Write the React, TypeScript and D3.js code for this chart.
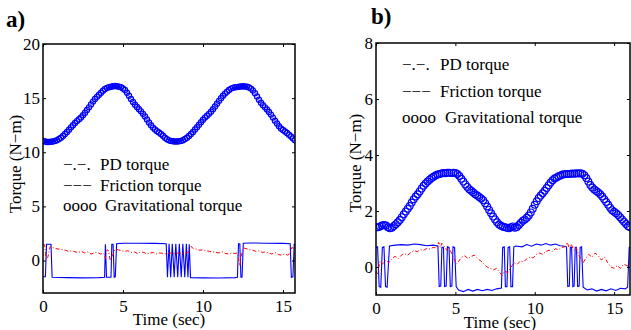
import React, { useEffect, useRef } from 'react';
import * as d3 from 'd3';

// Gravitational torque, sampled every 0.125 s (panel a: 0..15.75 s, panel b: 0..16 s)
const GRAV_STEP = 0.125;
const gravA = [
  11.05, 11.0, 10.95, 10.95, 10.97, 11.0, 11.05, 11.12, 11.22, 11.35, 11.5, 11.68, 11.88, 12.08, 12.3, 12.5,
  12.7, 12.88, 13.05, 13.22, 13.42, 13.65, 13.9, 14.15, 14.42, 14.68, 14.92, 15.12, 15.32, 15.5, 15.68, 15.85,
  15.95, 16.0, 16.05, 16.1, 16.12, 16.1, 16.05, 16.0, 15.9, 15.75, 15.5, 15.22, 14.92, 14.65, 14.4, 14.18,
  13.98, 13.78, 13.55, 13.3, 13.02, 12.75, 12.5, 12.28, 12.1, 11.95, 11.82, 11.68, 11.52, 11.35, 11.2, 11.1,
  11.05, 11.02, 11.0, 11.0, 11.02, 11.05, 11.12, 11.22, 11.35, 11.5, 11.68, 11.88, 12.1, 12.32, 12.55, 12.78,
  13.0, 13.2, 13.38, 13.55, 13.75, 13.98, 14.22, 14.48, 14.75, 15.0, 15.22, 15.42, 15.6, 15.75, 15.88, 15.95,
  16.0, 16.02, 16.05, 16.08, 16.1, 16.08, 16.05, 15.98, 15.88, 15.7, 15.45, 15.15, 14.85, 14.58, 14.35, 14.15,
  13.95, 13.72, 13.48, 13.2, 12.92, 12.65, 12.4, 12.2, 12.05, 11.92, 11.78, 11.62, 11.45, 11.28, 11.1
];
const gravB = [
  1.42, 1.42, 1.45, 1.48, 1.5, 1.48, 1.42, 1.38, 1.4, 1.46, 1.53, 1.6, 1.68, 1.78, 1.88, 1.98,
  2.08, 2.18, 2.3, 2.42, 2.52, 2.6, 2.7, 2.8, 2.9, 2.98, 3.05, 3.12, 3.18, 3.22, 3.27, 3.3,
  3.32, 3.34, 3.36, 3.35, 3.37, 3.37, 3.36, 3.37, 3.36, 3.32, 3.25, 3.15, 3.05, 2.95, 2.86, 2.78,
  2.72, 2.66, 2.6, 2.55, 2.5, 2.45, 2.38, 2.28, 2.16, 2.04, 1.92, 1.8, 1.7, 1.6, 1.52, 1.47,
  1.44, 1.42, 1.4, 1.38, 1.42, 1.45, 1.4, 1.43, 1.5, 1.58, 1.65, 1.7, 1.76, 1.84, 1.95, 2.08,
  2.22, 2.35, 2.46, 2.55, 2.63, 2.72, 2.82, 2.92, 3.02, 3.1, 3.16, 3.2, 3.24, 3.27, 3.3, 3.31,
  3.32, 3.32, 3.33, 3.34, 3.33, 3.35, 3.34, 3.35, 3.33, 3.28, 3.18, 3.05, 2.93, 2.84, 2.77, 2.71,
  2.66, 2.6, 2.52, 2.42, 2.32, 2.22, 2.12, 2.03, 1.97, 1.92, 1.86, 1.78, 1.7, 1.62, 1.54, 1.46,
  1.42
];

// Friction torque [time, value]
const frictionA: [number, number][] = [
  [0, -1.5], [0.15, -1.5], [0.22, 1.5], [0.5, 1.5], [0.57, -1.55], [1.5, -1.58], [2.5, -1.6], [3.5, -1.58],
  [3.85, -1.55], [3.9, 1.5], [3.97, -1.55], [4.25, -1.55], [4.3, 1.5], [4.38, 1.5], [4.45, -1.55], [4.52, -1.5],
  [4.6, 1.55], [5, 1.6], [6, 1.6], [7, 1.58], [7.7, 1.55], [7.78, -1.55], [7.88, 1.55], [7.98, -1.55],
  [8.08, 1.55], [8.2, -1.55], [8.3, 1.55], [8.42, -1.55], [8.52, 1.55], [8.64, -1.55], [8.74, 1.55],
  [8.86, -1.55], [8.96, 1.55], [9.06, -1.55], [9.14, 1.5], [9.22, -1.58], [10, -1.6], [11, -1.62], [12, -1.58],
  [12.15, -1.55], [12.22, 1.55], [12.3, 1.55], [12.37, -1.55], [12.44, -1.55], [12.52, 1.6], [13, 1.62],
  [14, 1.6], [15, 1.58], [15.45, 1.55], [15.52, -1.55], [15.62, -1.5], [15.7, 1.5], [15.75, 1.5]
];
const frictionB: [number, number][] = [
  [0, 0.7], [0.1, 0.72], [0.2, -0.7], [0.3, -0.72], [0.4, 0.7], [0.5, 0.72], [0.6, -0.7], [0.7, -0.72],
  [0.85, 0.75], [1.2, 0.78], [1.6, 0.8], [2.0, 0.78], [2.4, 0.82], [2.8, 0.8], [3.2, 0.76], [3.6, 0.78],
  [3.9, 0.75], [3.98, -0.7], [4.08, -0.68], [4.15, 0.7], [4.25, 0.7], [4.32, -0.7], [4.42, -0.68], [4.5, 0.72],
  [4.6, 0.7], [4.68, -0.7], [4.78, -0.68], [4.85, 0.72], [4.95, 0.7], [5.05, -0.7], [5.2, -0.82], [5.5, -0.88],
  [5.8, -0.8], [6.1, -0.86], [6.4, -0.8], [6.7, -0.85], [7.0, -0.8], [7.3, -0.84], [7.6, -0.78], [7.9, -0.75],
  [7.98, 0.7], [8.08, 0.72], [8.15, -0.7], [8.25, -0.7], [8.32, 0.7], [8.42, 0.72], [8.5, -0.7], [8.6, -0.7],
  [8.68, 0.72], [8.8, 0.75], [9.2, 0.72], [9.5, 0.8], [9.8, 0.74], [10.1, 0.82], [10.4, 0.78], [10.7, 0.84],
  [11.0, 0.78], [11.3, 0.82], [11.6, 0.76], [11.9, 0.74], [12.0, 0.72], [12.08, -0.7], [12.18, -0.68],
  [12.24, 0.7], [12.32, 0.7], [12.4, -0.7], [12.48, -0.68], [12.55, 0.7], [12.63, 0.7], [12.7, -0.7],
  [12.8, -0.68], [12.86, 0.7], [12.95, 0.72], [13.05, -0.72], [13.3, -0.82], [13.6, -0.78], [13.9, -0.86],
  [14.2, -0.8], [14.5, -0.85], [14.8, -0.78], [15.1, -0.84], [15.4, -0.76], [15.7, -0.78], [15.85, -0.72],
  [15.95, 0.7], [16, 0.72]
];

// PD torque [time, value]
const pdA: [number, number][] = [
  [0, 1.5], [0.1, 1.45], [0.2, 0.1], [0.3, 0.3], [0.45, 1.3], [0.6, 1.2], [0.8, 1.1], [1.0, 1.05], [1.2, 1.0],
  [1.4, 0.95], [1.6, 0.85], [1.8, 0.9], [2.0, 0.8], [2.2, 0.75], [2.4, 0.85], [2.6, 0.7], [2.8, 0.8], [3.0, 0.6],
  [3.2, 0.7], [3.4, 0.75], [3.6, 0.6], [3.8, 0.65], [3.9, 0.2], [4.0, 1.0], [4.1, 0.9], [4.2, 0.0], [4.35, 0.5],
  [4.5, 1.0], [4.7, 1.0], [4.9, 0.9], [5.1, 0.85], [5.3, 0.9], [5.5, 0.75], [5.7, 0.8], [5.9, 0.65], [6.1, 0.8],
  [6.3, 0.75], [6.5, 0.6], [6.7, 0.7], [6.9, 0.75], [7.1, 0.6], [7.3, 0.7], [7.5, 0.65], [7.7, 0.6], [7.9, 0.7],
  [8.2, 0.65], [8.5, 0.7], [8.8, 0.6], [9.1, 0.8], [9.25, 1.3], [9.4, 1.1], [9.6, 1.05], [9.8, 0.95], [10.0, 1.0],
  [10.2, 0.9], [10.4, 0.85], [10.6, 0.8], [10.8, 0.75], [11.0, 0.7], [11.2, 0.8], [11.4, 0.65], [11.6, 0.6],
  [11.8, 0.7], [12.0, 0.65], [12.15, 0.7], [12.3, -0.5], [12.45, 0.9], [12.55, 1.15], [12.7, 1.1], [12.9, 1.0],
  [13.1, 0.95], [13.3, 0.85], [13.5, 0.9], [13.7, 0.75], [13.9, 0.8], [14.1, 0.7], [14.3, 0.6], [14.5, 0.75],
  [14.7, 0.55], [14.9, 0.5], [15.1, 0.6], [15.3, 0.5], [15.45, 0.65], [15.55, 1.2], [15.75, 1.1]
];
const pdB: [number, number][] = [
  [0, -0.15], [0.1, -0.25], [0.25, 0.2], [0.4, 0.1], [0.6, 0.25], [0.8, 0.15], [1.0, 0.3], [1.2, 0.38],
  [1.4, 0.3], [1.6, 0.42], [1.8, 0.48], [2.0, 0.42], [2.2, 0.52], [2.4, 0.58], [2.6, 0.55], [2.8, 0.62],
  [3.0, 0.6], [3.2, 0.66], [3.4, 0.64], [3.6, 0.7], [3.8, 0.68], [3.95, 0.88], [4.05, 0.7], [4.15, 0.85],
  [4.3, 0.75], [4.45, 0.6], [4.6, 0.7], [4.75, 0.5], [4.9, 0.3], [5.05, 0.1], [5.2, 0.2], [5.4, 0.35],
  [5.6, 0.4], [5.8, 0.3], [6.0, 0.38], [6.2, 0.42], [6.4, 0.3], [6.6, 0.22], [6.8, 0.1], [7.0, 0.0],
  [7.2, -0.05], [7.4, -0.1], [7.6, -0.05], [7.8, -0.2], [7.95, -0.3], [8.1, -0.15], [8.3, -0.2], [8.5, 0.0],
  [8.7, 0.15], [8.9, 0.1], [9.1, 0.22], [9.3, 0.18], [9.5, 0.3], [9.7, 0.35], [9.9, 0.32], [10.1, 0.45],
  [10.3, 0.5], [10.5, 0.45], [10.7, 0.55], [10.9, 0.6], [11.1, 0.55], [11.3, 0.65], [11.5, 0.62], [11.7, 0.7],
  [11.9, 0.72], [12.05, 0.88], [12.15, 0.7], [12.3, 0.82], [12.45, 0.6], [12.6, 0.7], [12.75, 0.45],
  [12.9, 0.3], [13.05, 0.15], [13.2, 0.3], [13.4, 0.45], [13.6, 0.35], [13.8, 0.5], [14.0, 0.4], [14.2, 0.25],
  [14.4, 0.35], [14.6, 0.15], [14.8, 0.0], [15.0, -0.05], [15.2, 0.05], [15.4, -0.05], [15.6, 0.1],
  [15.8, 0.05], [16, 0.0]
];

const xTicks = [0, 5, 10, 15];
const yTicksA = [0, 5, 10, 15, 20];
const yTicksB = [0, 2, 4, 6, 8];
const legendItems = [
  ['\u2212.\u2212.', 'PD torque'],
  ['\u2212\u2212\u2212', 'Friction torque'],
  ['oooo', 'Gravitational torque']
];

const FONT = '"Liberation Serif", "Times New Roman", serif';

const App = () => {
  const ref = useRef<SVGSVGElement>(null);

  useEffect(() => {
    drawChart();
  }, []);

  const drawPanel = (svg: any, p: any) => {
    const x = d3.scaleLinear().domain(p.xDomain).range([p.left, p.right]);
    const y = d3.scaleLinear().domain(p.yDomain).range([p.bottom, p.top]);
    const g = svg.append('g');

    // clip for the plot area
    const clipId = 'clip-' + p.name;
    svg.append('clipPath').attr('id', clipId)
      .append('rect')
      .attr('x', p.left).attr('y', p.top)
      .attr('width', p.right - p.left).attr('height', p.bottom - p.top);

    const plot = g.append('g').attr('clip-path', `url(#${clipId})`);
    const line = d3.line<[number, number]>().x(d => x(d[0])).y(d => y(d[1]));

    // friction torque
    plot.append('path')
      .attr('d', line(p.friction))
      .attr('fill', 'none')
      .attr('stroke', '#0000ff')
      .attr('stroke-width', 1.1);

    // PD torque
    plot.append('path')
      .attr('d', line(p.pd))
      .attr('fill', 'none')
      .attr('stroke', '#ff0000')
      .attr('stroke-width', 1)
      .attr('stroke-dasharray', '4,2,1,2');

    // gravitational torque markers
    plot.selectAll('circle.grav')
      .data(p.grav)
      .enter()
      .append('circle')
      .attr('class', 'grav')
      .attr('cx', (d: number, i: number) => x(i * GRAV_STEP))
      .attr('cy', (d: number) => y(d))
      .attr('r', p.r)
      .attr('fill', 'none')
      .attr('stroke', '#0000ff')
      .attr('stroke-width', 1.2);

    // axes, ticks pointing inward
    const bottomAxis = g.append('g')
      .attr('transform', `translate(0,${p.bottom})`)
      .call(d3.axisBottom(x).tickValues(xTicks).tickSizeInner(-3).tickSizeOuter(0).tickPadding(7));
    const leftAxis = g.append('g')
      .attr('transform', `translate(${p.left},0)`)
      .call(d3.axisLeft(y).tickValues(p.yTicks).tickSizeInner(-3).tickSizeOuter(0).tickPadding(3));
    g.append('g')
      .attr('transform', `translate(0,${p.top})`)
      .call(d3.axisTop(x).tickValues(xTicks).tickSizeInner(-3).tickSizeOuter(0).tickFormat(() => ''));
    g.append('g')
      .attr('transform', `translate(${p.right},0)`)
      .call(d3.axisRight(y).tickValues(p.yTicks).tickSizeInner(-3).tickSizeOuter(0).tickFormat(() => ''));

    g.selectAll('.domain').remove();
    g.selectAll('.tick line').attr('stroke', '#000').attr('stroke-width', 1);
    [bottomAxis, leftAxis].forEach(a => {
      a.selectAll('text')
        .attr('font-family', FONT)
        .attr('font-size', 17)
        .attr('fill', '#000');
    });

    g.append('rect')
      .attr('x', p.left).attr('y', p.top)
      .attr('width', p.right - p.left).attr('height', p.bottom - p.top)
      .attr('fill', 'none')
      .attr('stroke', '#000')
      .attr('stroke-width', 1.5);

    // axis titles
    g.append('text')
      .attr('x', (p.left + p.right) / 2 + p.xLabelDx)
      .attr('y', p.xLabelY)
      .attr('text-anchor', 'middle')
      .attr('font-family', FONT)
      .attr('font-size', 17)
      .text('Time (sec)');

    g.append('text')
      .attr('transform', `translate(${p.yLabelX},${p.yLabelY}) rotate(-90)`)
      .attr('text-anchor', 'middle')
      .attr('font-family', FONT)
      .attr('font-size', 17)
      .text('Torque (N\u2212m)');

    // panel letter
    g.append('text')
      .attr('x', p.letterX)
      .attr('y', p.letterY)
      .attr('font-family', FONT)
      .attr('font-weight', 'bold')
      .attr('font-size', 23)
      .text(p.name + ')');

    // legend
    legendItems.forEach(([sym, label], i) => {
      g.append('text')
        .attr('x', p.legX)
        .attr('y', p.legY + i * p.legGap)
        .attr('font-family', FONT)
        .attr('font-size', 17)
        .text(sym);
      g.append('text')
        .attr('x', p.legX + (i === 2 ? p.legTextDx + 5 : p.legTextDx))
        .attr('y', p.legY + i * p.legGap)
        .attr('font-family', FONT)
        .attr('font-size', 17)
        .text(label);
    });
  };

  const drawChart = () => {
    const svg = d3.select(ref.current);
    svg.selectAll('*').remove();

    drawPanel(svg, {
      name: 'a',
      xDomain: [0, 15.75], yDomain: [-3, 20],
      left: 43, right: 295, top: 44, bottom: 293,
      yTicks: yTicksA,
      grav: gravA, friction: frictionA, pd: pdA, r: 2.6,
      xLabelDx: 0, xLabelY: 325,
      yLabelX: 21, yLabelY: 164,
      letterX: 6, letterY: 27,
      legX: 63, legY: 170, legGap: 20.5, legTextDx: 37
    });

    drawPanel(svg, {
      name: 'b',
      xDomain: [0, 16], yDomain: [-1, 8],
      left: 376, right: 630, top: 43, bottom: 295,
      yTicks: yTicksB,
      grav: gravB, friction: frictionB, pd: pdB, r: 3.4,
      xLabelDx: -3, xLabelY: 328,
      yLabelX: 361, yLabelY: 163,
      letterX: 371, letterY: 24,
      legX: 402, legY: 70, legGap: 26.7, legTextDx: 38
    });
  };

  return (
    <svg
      ref={ref}
      width={631}
      height={330}
      style={{ position: 'absolute', left: 0, top: 0, background: '#fff' }}
    />
  );
};

export default App;
